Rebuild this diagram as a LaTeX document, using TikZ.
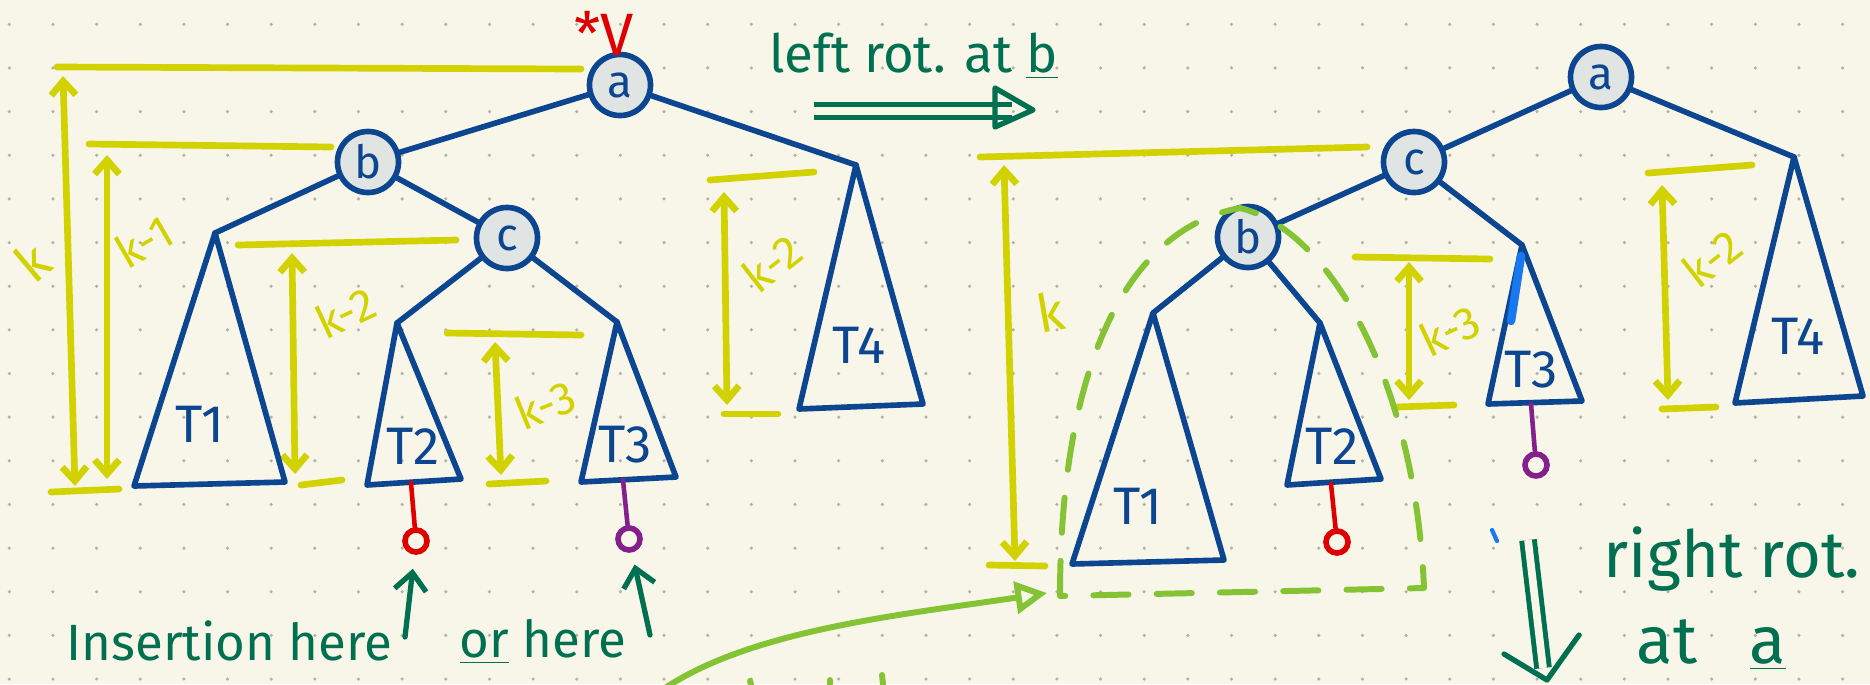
\documentclass[tikz,border=0pt]{standalone}
\usepackage{fontspec}
\newfontfamily\handfont{Fira Sans}
\usetikzlibrary{positioning,calc}
\usetikzlibrary{arrows.meta}
\definecolor{PaperCream}{RGB}{248,246,233}
\definecolor{DotGray}{RGB}{178,178,172}
\definecolor{InkBlue}{RGB}{12,70,145}
\definecolor{NodeGray}{RGB}{224,228,226}
\definecolor{HiYellow}{RGB}{210,210,0}
\definecolor{PenGreen}{RGB}{0,112,80}
\definecolor{LimeGreen}{RGB}{132,196,52}
\definecolor{InsRed}{RGB}{222,0,0}
\definecolor{InsPurple}{RGB}{132,32,140}
\definecolor{BrightBlue}{RGB}{24,120,240}
\tikzset{tnode/.style={circle,draw=InkBlue,fill=NodeGray,line width=1.6pt,minimum size=6.1mm,inner sep=0pt,text=InkBlue,font=\handfont\fontsize{13}{13}\selectfont},
treeline/.style={draw=InkBlue,line width=1.6pt,line cap=round,line join=round},
tlab/.style={text=InkBlue,inner sep=0pt,font=\handfont\fontsize{15}{15}\selectfont},
lvl/.style={draw=HiYellow,line width=1.9pt,line cap=round},
hgt/.style={lvl,{Straight Barb[length=4pt,width=7pt]}-{Straight Barb[length=4pt,width=7pt]}},
klab/.style={text=HiYellow,inner sep=0pt,font=\handfont\fontsize{13}{13}\selectfont},
inspt/.style={circle,line width=1.6pt,minimum size=2.2mm,inner sep=0pt,fill=PaperCream},
stem/.style={line width=1.3pt,line cap=round},
pen/.style={text=PenGreen,inner sep=0pt},
penline/.style={draw=PenGreen,line width=1.5pt,line cap=round,line join=round},
dblshaft/.style={draw=PenGreen,line width=1.4pt,double=PaperCream,double distance=2.2pt},
lime/.style={draw=LimeGreen,line width=1.7pt,line cap=round,line join=round}}

\begin{document}
\begin{tikzpicture}[x=0.01cm,y=-0.01cm]
\fill[PaperCream] (0,0) rectangle (1870,684);
\useasboundingbox (0,0) rectangle (1870,684);
\foreach \i in {0,...,42}
  \foreach \j in {0,...,15}
    \fill[DotGray] (9.3+43.65*\i,24.3+43.65*\j) circle[radius=0.5pt];

% ---------- left tree, heights
\draw[lvl] (57,67) -- (581,69);
\draw[lvl] (89,144) -- (331,147);
\draw[lvl] (238,245) -- (456,240);
\draw[lvl] (447,333) -- (581,335);
\draw[lvl] (710,180) -- (814,172);
\draw[lvl] (51,492) -- (119,489);
\draw[lvl] (301,485) -- (342,480);
\draw[lvl] (489,484) -- (546,481);
\draw[lvl] (724,414) -- (778,414);
\draw[hgt] (63,76) -- (75,486);
\draw[hgt] (107,155) -- (107,479);
\draw[hgt] (292,253) -- (295,474);
\draw[hgt] (495,342) -- (501,475);
\draw[hgt] (724,192) -- (727,405);
\node[klab,rotate=40,font=\handfont\fontsize{15}{15}\selectfont] (lk0) at (32,262) {k};
\node[klab,rotate=30] (lk1) at (144,241) {k-1};
\node[klab,rotate=25] (lk2) at (345,312) {k-2};
\node[klab,rotate=22] (lk3) at (545,405) {k-3};
\node[klab,rotate=38] (lk4) at (772,263) {k-2};

% ---------- right tree, heights
\draw[lvl] (980,157) -- (1367,147);
\draw[lvl] (1355,257) -- (1490,259);
\draw[lvl] (1648,173) -- (1752,165);
\draw[lvl] (989,565) -- (1045,566);
\draw[lvl] (1397,407) -- (1454,405);
\draw[lvl] (1662,409) -- (1716,407);
\draw[hgt] (1004,165) -- (1015,561);
\draw[hgt] (1409,262) -- (1409,400);
\draw[hgt] (1662,185) -- (1668,400);
\node[klab,rotate=10,font=\handfont\fontsize{15}{15}\selectfont] (rk0) at (1050,312) {k};
\node[klab,rotate=25] (rk3) at (1450,330) {k-3};
\node[klab,rotate=38] (rk2) at (1712,258) {k-2};

% ---------- left tree
\coordinate (lt1) at (215,233);
\coordinate (lt2) at (397,323);
\coordinate (lt3) at (617,322);
\coordinate (lt4) at (856,165);
\node[tnode] (la) at (620,85) {a};
\node[tnode] (lb) at (368,162) {b};
\node[tnode] (lc) at (507,238) {c};
\draw[treeline] (la) -- (lb);
\draw[treeline] (la) -- (lt4);
\draw[treeline] (lb) -- (lt1);
\draw[treeline] (lb) -- (lc);
\draw[treeline] (lc) -- (lt2);
\draw[treeline] (lc) -- (lt3);
\draw[treeline] (lt1) -- (134,486) -- (285,482) -- cycle;
\draw[treeline] (lt2) -- (367,485) -- (461,479) -- cycle;
\draw[treeline] (lt3) -- (581,482) -- (676,477) -- cycle;
\draw[treeline] (lt4) -- (799,409) -- (923,404) -- cycle;
\node[tlab] (lT1) at (200,424) {T1};
\node[tlab] (lT2) at (413,446) {T2};
\node[tlab] (lT3) at (625,445) {T3};
\node[tlab] (lT4) at (859,345) {T4};
\node[text=InsRed,inner sep=0pt,font=\handfont\fontsize{17}{17}\selectfont] (mark) at (604,33) {*V};

% insertion points
\coordinate (lb2) at (411,483);
\coordinate (lb3) at (623,480);
\node[inspt,draw=InsRed] (lins2) at (416,541) {};
\node[inspt,draw=InsPurple] (lins3) at (629,539) {};
\draw[stem,InsRed] (lb2) -- (lins2);
\draw[stem,InsPurple] (lb3) -- (lins3);

% ---------- right tree
\coordinate (rt1) at (1153,313);
\coordinate (rt2) at (1320,323);
\coordinate (rt3) at (1522,245);
\coordinate (rt4) at (1794,157);
\node[tnode] (ra) at (1601,77) {a};
\node[tnode] (rc) at (1414,162) {c};
\node[tnode] (rb) at (1248,237) {b};
\draw[treeline] (ra) -- (rc);
\draw[treeline] (ra) -- (rt4);
\draw[treeline] (rc) -- (rb);
\draw[treeline] (rc) -- (rt3);
\draw[treeline] (rb) -- (rt1);
\draw[treeline] (rb) -- (rt2);
\draw[treeline] (rt1) -- (1072,564) -- (1224,560) -- cycle;
\draw[treeline] (rt2) -- (1287,485) -- (1381,479) -- cycle;
\draw[treeline] (rt3) -- (1488,404) -- (1582,401) -- cycle;
\draw[treeline] (rt4) -- (1735,403) -- (1863,396) -- cycle;
\draw[BrightBlue,line width=2.4pt,line cap=round] (1521,256) -- (1511,321);
\node[tlab] (rT1) at (1138,506) {T1};
\node[tlab] (rT2) at (1332,446) {T2};
\node[tlab] (rT3) at (1531,370) {T3};
\node[tlab] (rT4) at (1798,336) {T4};

\coordinate (rb2) at (1331,484);
\coordinate (rb3) at (1531,404);
\node[inspt,draw=InsRed] (rins2) at (1337,542) {};
\node[inspt,draw=InsPurple] (rins3) at (1536,465) {};
\draw[stem,InsRed] (rb2) -- (rins2);
\draw[stem,InsPurple] (rb3) -- (rins3);

% subtree moved by the rotation
\draw[lime,dash pattern=on 10pt off 8pt] (1060,596) .. controls (1060,380) and (1120,230) .. (1240,208)
  .. controls (1330,230) and (1415,380) .. (1424,588) -- cycle;
\coordinate (curveA) at (662,690);
\coordinate (curveB) at (1047,593);
\draw[lime,-{Triangle[open,length=9pt,width=9pt]}] (curveA) .. controls (750,630) and (900,615) .. (curveB);
\draw[lime] (750,681) -- (751,684);
\draw[lime] (830,680) -- (830,684);
\draw[lime] (882,675) -- (883,684);
\draw[BrightBlue,line width=1.2pt,line cap=round] (1492,530) -- (1497,541);

% ---------- notes
\node[pen,anchor=base west,font=\handfont\fontsize{15}{15}\selectfont] (lrot) at (769,72) {left rot. at \underline{b}};
\coordinate (lrotA) at (814,111);
\coordinate (lrotB) at (1012,111);
\coordinate (lrotT) at (1033,110);
\draw[dblshaft] (lrotA) -- (lrotB);
\draw[penline] ($(lrotT)+(-38,-22)$) -- (lrotT) -- ($(lrotT)+(-38,17)$) -- cycle;

\node[pen,anchor=base west,font=\handfont\fontsize{14.5}{14.5}\selectfont] (ins1) at (66,660) {Insertion here};
\node[pen,anchor=base west,font=\handfont\fontsize{14.5}{14.5}\selectfont] (ins2) at (459,657) {\underline{or} here};
\coordinate (insA) at (405,637);
\coordinate (insB) at (650,635);
\draw[penline,shorten >=4pt,-{Straight Barb[length=5pt,width=9pt]}] (insA) -- (lins2);
\draw[penline,shorten >=3.5pt,-{Straight Barb[length=5pt,width=9pt]}] (insB) -- (lins3);

\node[pen,anchor=base west,font=\handfont\fontsize{18.5}{18.5}\selectfont] (rrot) at (1603,577) {right rot.};
\node[pen,anchor=base west,font=\handfont\fontsize{19}{19}\selectfont] (rrot2) at (1636,663) {at\hspace{15pt}\underline{a}};
\coordinate (rrotA) at (1528,540);
\coordinate (rrotB) at (1543,668);
\coordinate (rrotT) at (1547,680);
\draw[dblshaft] (rrotA) -- (rrotB);
\draw[penline] ($(rrotT)+(-43,-26)$) -- (rrotT) -- ($(rrotT)+(32,-45)$);
\end{tikzpicture}
\end{document}
